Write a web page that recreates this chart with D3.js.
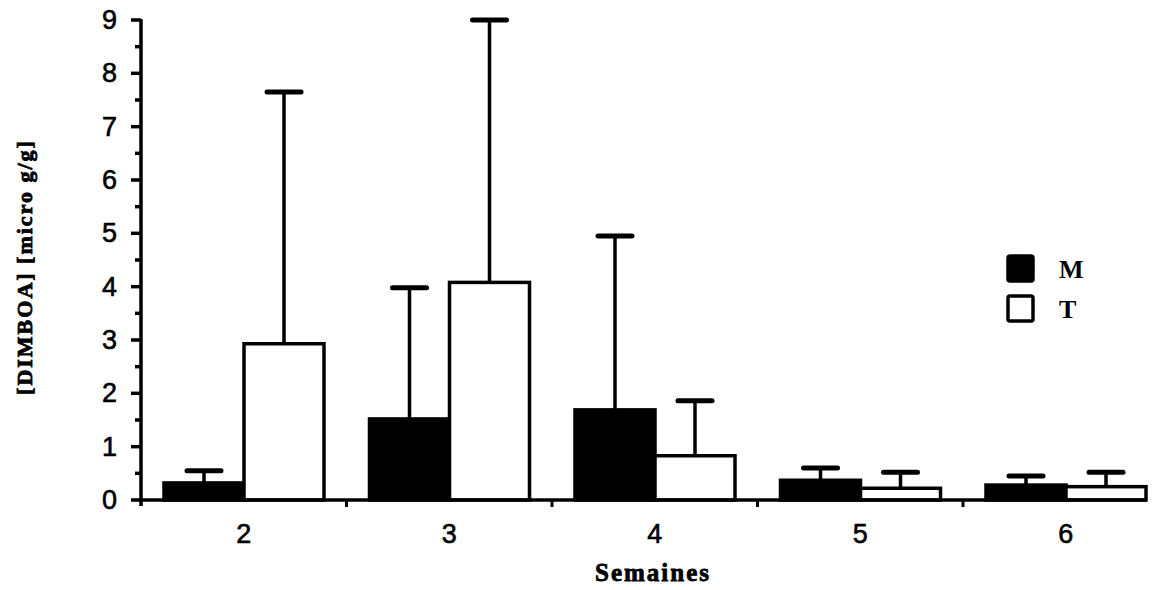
<!DOCTYPE html>
<html>
<head>
<meta charset="utf-8">
<script src="https://cdn.jsdelivr.net/npm/d3@7"></script>
<style>
  body{margin:0;background:#fff;}
  .tick text{font-family:"Liberation Sans",Arial,sans-serif;}
</style>
</head>
<body>
<script>
// data
var weeks=["2","3","4","5","6"];
var seriesNames=["M","T"];
var valM=[0.32,1.52,1.69,0.37,0.28];     // bar heights, M (black)
var errM=[0.55,3.98,4.95,0.60,0.45];     // top of error bar, M
var valT=[2.93,4.08,0.83,0.22,0.25];     // bar heights, T (white)
var errT=[7.65,9.00,1.86,0.52,0.52];     // top of error bar, T
var yTicks=[0,1,2,3,4,5,6,7,8,9];

var W=1159,H=590;
var svg=d3.select("body").append("svg").attr("width",W).attr("height",H);

var x=d3.scaleBand().domain(weeks).range([141,141+5*205.5]);
var y=d3.scaleLinear().domain([0,9]).range([500,20]);
var sub=d3.scaleBand().domain(seriesNames).range([23,183]);

var rows=weeks.map(function(w,i){
  return [
    {w:w,s:"M",v:valM[i],e:errM[i]},
    {w:w,s:"T",v:valT[i],e:errT[i]}
  ];
});
var flat=d3.merge(rows);

// error bars first, bars drawn over them
var eb=svg.append("g").selectAll("g").data(flat).enter().append("g");
eb.append("line")
  .attr("x1",function(d){return x(d.w)+sub(d.s)+sub.bandwidth()/2;})
  .attr("x2",function(d){return x(d.w)+sub(d.s)+sub.bandwidth()/2;})
  .attr("y1",function(d){return y(d.v);})
  .attr("y2",function(d){return y(d.e);})
  .attr("stroke","#000").attr("stroke-width",3.5);
eb.append("line")
  .attr("x1",function(d){return x(d.w)+sub(d.s)+sub.bandwidth()/2-17;})
  .attr("x2",function(d){return x(d.w)+sub(d.s)+sub.bandwidth()/2+17;})
  .attr("y1",function(d){return y(d.e);})
  .attr("y2",function(d){return y(d.e);})
  .attr("stroke","#000").attr("stroke-width",5).attr("stroke-linecap","round");

svg.append("g").selectAll("rect").data(flat).enter().append("rect")
  .attr("x",function(d){return x(d.w)+sub(d.s);})
  .attr("y",function(d){return y(d.v);})
  .attr("width",sub.bandwidth())
  .attr("height",function(d){return y(0)-y(d.v);})
  .attr("fill",function(d){return d.s=="M"?"#000":"#fff";})
  .attr("stroke","#000").attr("stroke-width",3.5);

// y axis labels from d3, tick marks drawn by hand (major + half-unit minor)
var yAx=svg.append("g").attr("transform","translate(141,0)")
  .call(d3.axisLeft(y).tickValues(yTicks).tickSize(0).tickPadding(24).tickFormat(d3.format("d")));
yAx.select(".domain").remove();
yAx.selectAll(".tick text").attr("font-size",27).attr("fill","#000").attr("stroke","#000").attr("stroke-width",0.6);
svg.append("g").selectAll("line").data(d3.range(0,9.01,0.5)).enter().append("line")
  .attr("x1",function(d){return d%1==0?131:135;}).attr("x2",141)
  .attr("y1",function(d){return y(d);}).attr("y2",function(d){return y(d);})
  .attr("stroke","#000").attr("stroke-width",3.5);
svg.append("line").attr("x1",141).attr("x2",141).attr("y1",y(9)-1).attr("y2",y(0)+6)
  .attr("stroke","#000").attr("stroke-width",3.5);

// x axis: labels centred, small ticks on the category boundaries
var xAx=svg.append("g").attr("transform","translate(0,"+y(0)+")")
  .call(d3.axisBottom(x).tickSize(0).tickPadding(24));
xAx.select(".domain").remove();
xAx.selectAll(".tick text").attr("font-size",27).attr("fill","#000").attr("stroke","#000").attr("stroke-width",0.6);
svg.append("line").attr("x1",139).attr("x2",1146).attr("y1",y(0)).attr("y2",y(0))
  .attr("stroke","#000").attr("stroke-width",3.5);
svg.append("g").selectAll("line").data(weeks.slice(1)).enter().append("line")
  .attr("x1",function(d){return x(d);}).attr("x2",function(d){return x(d);})
  .attr("y1",y(0)).attr("y2",y(0)+7)
  .attr("stroke","#000").attr("stroke-width",3);

// axis titles
svg.append("text").attr("x",653).attr("y",581).attr("text-anchor","middle")
  .attr("font-family","Liberation Serif,Times New Roman,serif").attr("font-weight","bold")
  .attr("font-size",25).attr("letter-spacing",2).attr("stroke","#000").attr("stroke-width",0.8)
  .text("Semaines");
svg.append("text").attr("transform","translate(32,267) rotate(-90)").attr("text-anchor","middle")
  .attr("font-family","Liberation Serif,Times New Roman,serif").attr("font-weight","bold")
  .attr("font-size",22).attr("letter-spacing",2).attr("stroke","#000").attr("stroke-width",0.8)
  .text("[DIMBOA] [micro g/g]");

// legend
var leg=svg.append("g").selectAll("g").data(seriesNames).enter().append("g")
  .attr("transform",function(d,i){return "translate(1008,"+(256+i*40)+")";});
leg.append("rect").attr("width",25).attr("height",25).attr("rx",2)
  .attr("fill",function(d){return d=="M"?"#000":"#fff";})
  .attr("stroke","#000").attr("stroke-width",3.5);
leg.append("text").attr("x",51).attr("y",22)
  .attr("font-family","Liberation Serif,Times New Roman,serif").attr("font-weight","bold")
  .attr("font-size",26).text(function(d){return d;});
</script>
</body>
</html>
